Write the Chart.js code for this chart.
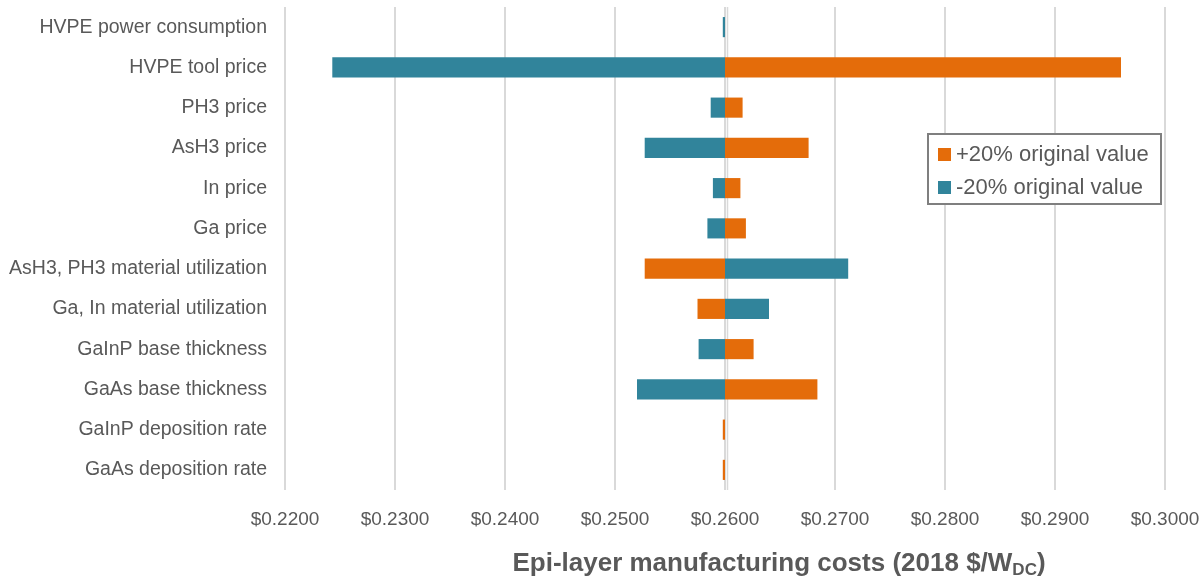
<!DOCTYPE html>
<html lang="en">
<head>
    <meta charset="UTF-8">
    <title>Epi-layer manufacturing costs</title>
    <script src="https://cdn.jsdelivr.net/npm/chart.js"></script>
    <style>
        body {
            margin: 0;
            padding: 0;
            background-color: #ffffff;
        }
        .wrap {
            width: 1204px;
            height: 577px;
            position: relative;
        }
    </style>
</head>
<body>
    <div class="wrap">
        <canvas id="tornado"></canvas>
    </div>

    <script>
        // Sensitivity inputs, top to bottom
        const categories = [
            'HVPE power consumption',
            'HVPE tool price',
            'PH3 price',
            'AsH3 price',
            'In price',
            'Ga price',
            'AsH3, PH3 material utilization',
            'Ga, In material utilization',
            'GaInP base thickness',
            'GaAs base thickness',
            'GaInP deposition rate',
            'GaAs deposition rate'
        ];

        // Cost at +20% / -20% of each input ($/W)
        const plusValues = [0.2600, 0.2960, 0.2616, 0.2676, 0.2614, 0.2619, 0.2527, 0.2575, 0.2626, 0.2684, 0.2598, 0.2598];
        const minusValues = [0.2598, 0.2243, 0.2587, 0.2527, 0.2589, 0.2584, 0.2712, 0.2640, 0.2576, 0.2520, 0.2600, 0.2600];
        const baseValue = 0.2600;

        const xMin = 0.22;
        const xMax = 0.30;
        const xStep = 0.01;

        const seriesLabels = ['+20% original value', '-20% original value'];
        const seriesColors = ['#E46C0A', '#31849B'];

        const textColor = '#595959';
        const fontFamily = '"Liberation Sans", Arial, sans-serif';

        // legend box with a grey frame, drawn inside the plot
        const boxLegend = {
            id: 'boxLegend',
            afterDraw(chart) {
                const ctx = chart.ctx;
                const x = 928, y = 134, w = 233, h = 70;
                ctx.save();
                ctx.fillStyle = '#ffffff';
                ctx.fillRect(x, y, w, h);
                ctx.strokeStyle = '#7f7f7f';
                ctx.lineWidth = 2;
                ctx.strokeRect(x, y, w, h);
                ctx.font = '22px ' + fontFamily;
                ctx.textBaseline = 'middle';
                chart.data.datasets.forEach((ds, i) => {
                    const rowY = y + 20 + i * 33;
                    ctx.fillStyle = ds.backgroundColor;
                    ctx.fillRect(x + 10, rowY - 6, 13, 13);
                    ctx.fillStyle = textColor;
                    ctx.fillText(ds.label, x + 28, rowY + 1);
                });
                ctx.restore();
            }
        };

        // x axis title with a subscript
        const axisTitle = {
            id: 'axisTitle',
            afterDraw(chart) {
                const ctx = chart.ctx;
                const main = 'Epi-layer manufacturing costs (2018 $/W';
                const sub = 'DC';
                const tail = ')';
                ctx.save();
                ctx.fillStyle = textColor;
                ctx.textBaseline = 'alphabetic';
                ctx.font = 'bold 26px ' + fontFamily;
                const wMain = ctx.measureText(main).width;
                const wTail = ctx.measureText(tail).width;
                ctx.font = 'bold 17px ' + fontFamily;
                const wSub = ctx.measureText(sub).width;
                const total = wMain + wSub + wTail;
                let x = 779 - total / 2;
                const baseY = 571;
                ctx.font = 'bold 26px ' + fontFamily;
                ctx.fillText(main, x, baseY);
                x += wMain;
                ctx.font = 'bold 17px ' + fontFamily;
                ctx.fillText(sub, x, baseY + 4);
                x += wSub;
                ctx.font = 'bold 26px ' + fontFamily;
                ctx.fillText(tail, x, baseY);
                ctx.restore();
            }
        };

        // vertical axis line crossing at the base cost
        const baseLine = {
            id: 'baseLine',
            beforeDatasetsDraw(chart) {
                const ctx = chart.ctx;
                const px = chart.scales.x.getPixelForValue(baseValue) + 2.5;
                const area = chart.chartArea;
                ctx.save();
                ctx.strokeStyle = '#d9d9d9';
                ctx.lineWidth = 1.5;
                ctx.beginPath();
                ctx.moveTo(px, area.top);
                ctx.lineTo(px, area.bottom);
                ctx.stroke();
                ctx.restore();
            }
        };

        const ctx = document.getElementById('tornado').getContext('2d');
        new Chart(ctx, {
            type: 'bar',
            data: {
                labels: categories,
                datasets: [{
                    label: seriesLabels[0],
                    data: plusValues.map(v => [baseValue, v]),
                    backgroundColor: seriesColors[0],
                    borderColor: '#ffffff',
                    borderWidth: 0
                }, {
                    label: seriesLabels[1],
                    data: minusValues.map(v => [baseValue, v]),
                    backgroundColor: seriesColors[1],
                    borderColor: '#ffffff',
                    borderWidth: 0
                }]
            },
            options: {
                indexAxis: 'y',
                responsive: true,
                maintainAspectRatio: false,
                animation: false,
                grouped: false,
                categoryPercentage: 1.0,
                barPercentage: 0.5,
                layout: {
                    padding: { top: 7, right: 39, left: 0, bottom: 0 }
                },
                plugins: {
                    legend: { display: false },
                    tooltip: { enabled: false }
                },
                scales: {
                    x: {
                        min: xMin,
                        max: xMax,
                        border: { display: false },
                        grid: {
                            color: '#d9d9d9',
                            lineWidth: 2,
                            drawTicks: false
                        },
                        ticks: {
                            stepSize: xStep,
                            padding: 18,
                            color: textColor,
                            font: { family: fontFamily, size: 19 },
                            callback: v => '$' + Number(v).toFixed(4)
                        },
                        afterFit(scale) {
                            scale.height = 87;
                            scale.paddingLeft = 0;
                            scale.paddingRight = 0;
                        }
                    },
                    y: {
                        border: { display: false },
                        grid: { display: false, drawTicks: false },
                        ticks: {
                            padding: 18,
                            color: textColor,
                            font: { family: fontFamily, size: 19.5 }
                        },
                        afterFit(scale) {
                            scale.width = 285;
                            scale.paddingTop = 0;
                            scale.paddingBottom = 0;
                        }
                    }
                }
            },
            plugins: [baseLine, boxLegend, axisTitle]
        });
    </script>
</body>
</html>
